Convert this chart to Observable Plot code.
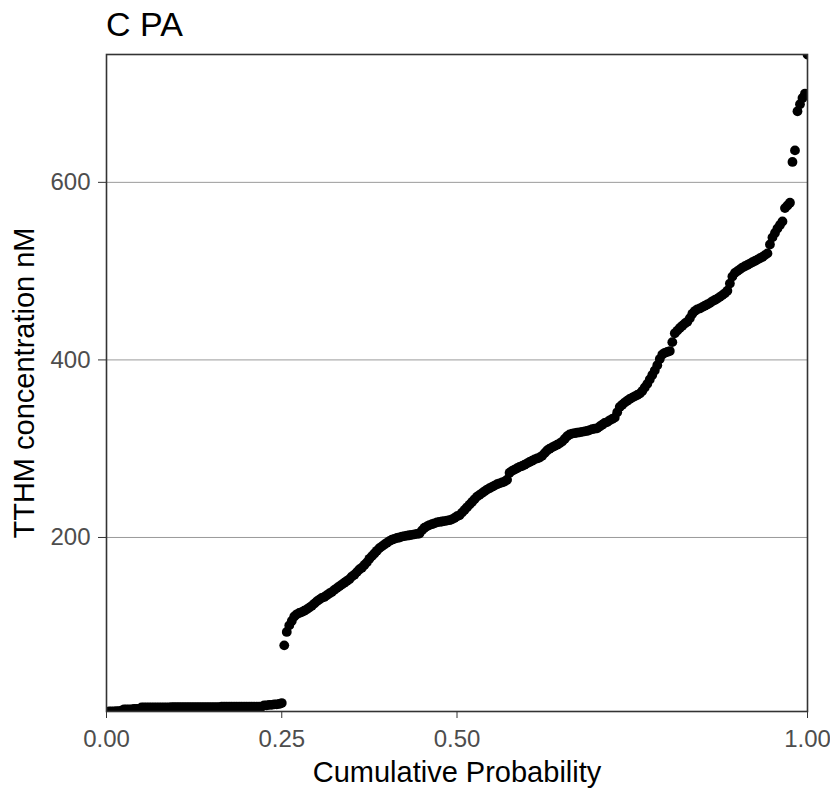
<!DOCTYPE html>
<html>
<head>
<meta charset="utf-8">
<script src="https://cdn.jsdelivr.net/npm/d3@7"></script>
<script src="https://cdn.jsdelivr.net/npm/@observablehq/plot@0.6"></script>
<style>
  html, body { margin: 0; padding: 0; background: #fff; }
  body { width: 830px; overflow: hidden; font-family: "Liberation Sans", Arial, sans-serif; }
  #title { height: 48px; box-sizing: border-box; padding: 7px 0 0 106px; font-size: 34px; line-height: 1; color: #000; }
</style>
</head>
<body>
<div id="title"></div>
<div id="chart"></div>
<script>
// Panel title and axis titles
const titleText = "C PA";
const xTitle = "Cumulative Probability";
const yTitle = "TTHM concentration nM";

// Axis breaks
const xTicks = [0, 0.25, 0.5, 1];
const yTicks = [200, 400, 600];

// TTHM concentrations (nM), sorted ascending
const lowBand = [
  4, 4, 4, 4.5, 4.5, 5,
  6.5, 6.5, 6.5, 6.5, 7, 7, 7,
  8.5, 8.5, 8.5, 8.5, 8.5, 8.5, 8.5, 8.5, 8.5, 8.5, 8.5, 8.5,
  9, 9, 9, 9, 9, 9, 9, 9, 9, 9, 9, 9, 9, 9, 9, 9, 9, 9, 9, 9,
  9.5, 9.5, 9.5, 9.5, 9.5, 9.5, 9.5, 9.5, 9.5, 9.5, 9.5, 9.5, 9.5, 9.5, 9.5, 9.5, 9.5,
  11, 11, 11.5, 11.5, 12, 12, 12.5, 13.5
];
const highBand = [
  78.5, 93.6, 101, 106, 111, 113.5, 115, 116, 117.5, 119,
  121, 123, 125.5, 128, 130, 132, 133, 135, 137, 138.5,
  141, 143, 145, 147, 149, 151, 153, 156, 158, 161,
  164, 166, 169, 172, 176, 179, 182, 185, 188, 190,
  192, 194, 196, 197.5, 198.5, 199.5, 200, 201, 201.5, 202,
  202.5, 203, 203.5, 204, 204.5, 208, 211, 212.5, 214, 215,
  216, 217, 217.5, 218, 218.5, 219, 219.5, 220.5, 222, 224,
  225, 228, 231, 234, 237, 240, 243, 246, 248, 250,
  252, 254, 255.5, 257, 258.5, 260, 261, 262, 263, 265,
  273, 275, 276.5, 278, 279.5, 280.5, 282, 283.5, 285, 286.5,
  288, 289, 290, 292, 295, 298, 300, 301.5, 303, 304.5,
  306, 308, 311, 314, 316, 317, 317.5, 318, 318.5, 319,
  319.5, 320, 321, 322, 322.5, 323, 325, 327, 329, 330,
  332, 333.5, 335, 341, 347, 349.5, 352, 354, 356, 357.5,
  359, 360.5, 362, 365, 369, 373, 378, 383, 388, 394,
  401, 406, 408, 409, 410, 420, 430, 433, 436, 438.5,
  441, 443, 447, 452, 455, 457, 458, 459.5, 461, 462.5,
  464, 466, 467.5, 469, 471, 473, 475, 478, 486, 494,
  498, 500, 502, 504, 505.5, 507, 508.5, 510, 511.5, 513,
  514.5, 516, 518, 520, 530, 538, 543, 548, 552, 556,
  571, 574, 577, 623, 636, 680, 688, 695, 700, 744
];

const tthm = lowBand.concat(highBand);
const n = tthm.length;
// empirical cumulative probability of each sorted value
const ecdf = tthm.map((v, i) => ({p: (i + 1) / n, v}));

document.getElementById("title").textContent = titleText;

const font = "Liberation Sans, Arial, sans-serif";
const chart = Plot.plot({
  width: 830,
  height: 746,
  marginTop: 6,
  marginLeft: 106,
  marginRight: 23,
  marginBottom: 83,
  style: {fontFamily: font, background: "white", overflow: "visible"},
  x: {domain: [0, 1], label: null},
  y: {domain: d3.extent(tthm), label: null},
  marks: [
    Plot.gridY(yTicks, {stroke: "#9a9a9a", strokeOpacity: 1, strokeWidth: 1}),
    Plot.dot(ecdf, {x: "p", y: "v", r: 4.9, fill: "black", stroke: "none", clip: true}),
    Plot.frame({stroke: "#333", strokeWidth: 1.6}),
    Plot.axisX(xTicks, {
      tickSize: 7, tickPadding: 11, stroke: "#333", fill: "#4d4d4d",
      fontSize: 24, tickFormat: d => d.toFixed(2), label: null
    }),
    Plot.axisY(yTicks, {
      tickSize: 8, tickPadding: 8, stroke: "#333", fill: "#4d4d4d",
      fontSize: 24, tickFormat: d => String(d), label: null
    }),
    Plot.text([xTitle], {
      text: d => d, frameAnchor: "bottom", lineAnchor: "bottom",
      dy: 70, fontSize: 29, fill: "black"
    }),
    Plot.text([yTitle], {
      text: d => d, frameAnchor: "left", textAnchor: "middle", lineAnchor: "bottom",
      rotate: -90, dx: -73, fontSize: 29, fill: "black"
    })
  ]
});
document.getElementById("chart").appendChild(chart);
</script>
</body>
</html>
